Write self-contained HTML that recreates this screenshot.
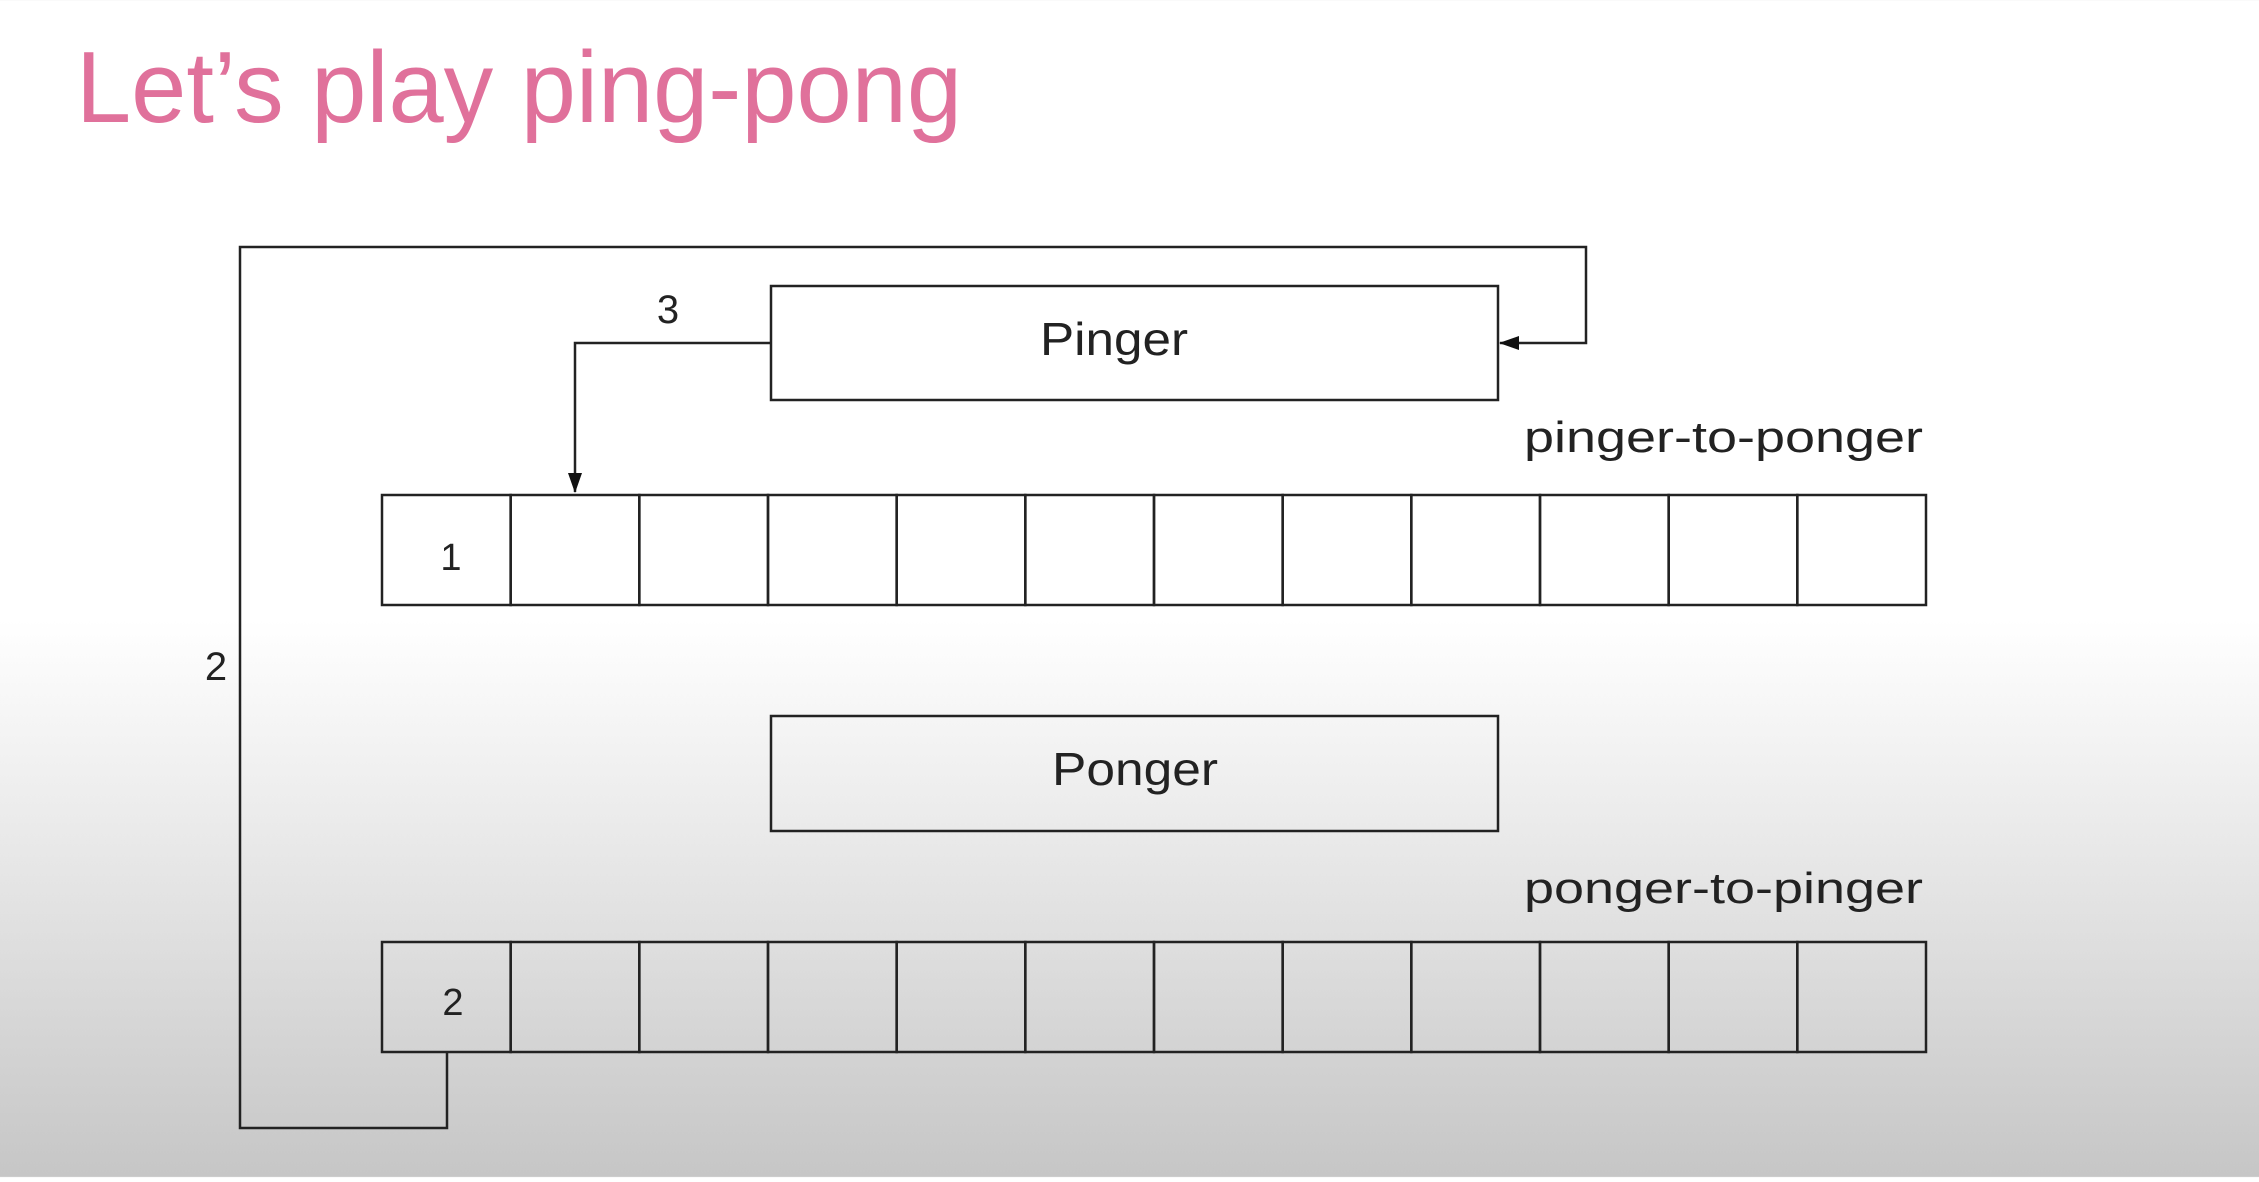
<!DOCTYPE html>
<html><head><meta charset="utf-8"><style>
html,body{margin:0;padding:0}
body{width:2259px;height:1177px;overflow:hidden;background:linear-gradient(to bottom,#ffffff 0px,#ffffff 620px,#e8e8e8 850px,#c6c6c6 1177px);font-family:"Liberation Sans",sans-serif}
</style></head><body>
<svg width="2259" height="1177" viewBox="0 0 2259 1177" xmlns="http://www.w3.org/2000/svg">
<defs>
<marker id="ah2" markerWidth="20" markerHeight="14" refX="19" refY="7" orient="auto" markerUnits="userSpaceOnUse"><path d="M0,0 L20,7 L0,14 z" fill="#111"/></marker></defs>
<text x="76" y="122" font-size="101" fill="#e0719b" textLength="886" lengthAdjust="spacingAndGlyphs">Let’s play ping-pong</text>
<g stroke="#222" stroke-width="2.5" fill="none">
<rect x="771" y="286" width="727" height="114"/>
<rect x="771" y="716" width="727" height="115"/>
<polyline points="447,1052 447,1128 240,1128 240,247 1586,247 1586,343 1500,343" marker-end="url(#ah2)"/>
<polyline points="771,343 575,343 575,492" marker-end="url(#ah2)"/>
</g>
<g id="q1"></g>
<g id="q2"></g>
<g font-family="'Liberation Sans',sans-serif" fill="#222">
<text x="1040" y="355" font-size="46" textLength="148" lengthAdjust="spacingAndGlyphs">Pinger</text>
<text x="1052" y="785" font-size="46" textLength="166" lengthAdjust="spacingAndGlyphs">Ponger</text>
<text x="1524" y="452" font-size="44" textLength="399" lengthAdjust="spacingAndGlyphs">pinger-to-ponger</text>
<text x="1524" y="903" font-size="44" textLength="399" lengthAdjust="spacingAndGlyphs">ponger-to-pinger</text>
<text x="668" y="323" font-size="40" text-anchor="middle">3</text>
<text x="216" y="680" font-size="40" text-anchor="middle">2</text>
<text x="451" y="570" font-size="38" text-anchor="middle">1</text>
<text x="453" y="1015" font-size="38" text-anchor="middle">2</text>
</g>
</svg>
<script>
const cells = 12, x0 = 382, x1 = 1926;
const w = (x1 - x0) / cells;
function drawQ(id, y, h) {
  const g = document.getElementById(id);
  for (let i = 0; i < cells; i++) {
    const r = document.createElementNS('http://www.w3.org/2000/svg', 'rect');
    r.setAttribute('x', x0 + i * w); r.setAttribute('y', y);
    r.setAttribute('width', w); r.setAttribute('height', h);
    r.setAttribute('fill', 'none'); r.setAttribute('stroke', '#222'); r.setAttribute('stroke-width', '2.5');
    
    
    g.appendChild(r);
  }
}
drawQ('q1', 495, 110);
drawQ('q2', 942, 110);
</script>
</body></html>
